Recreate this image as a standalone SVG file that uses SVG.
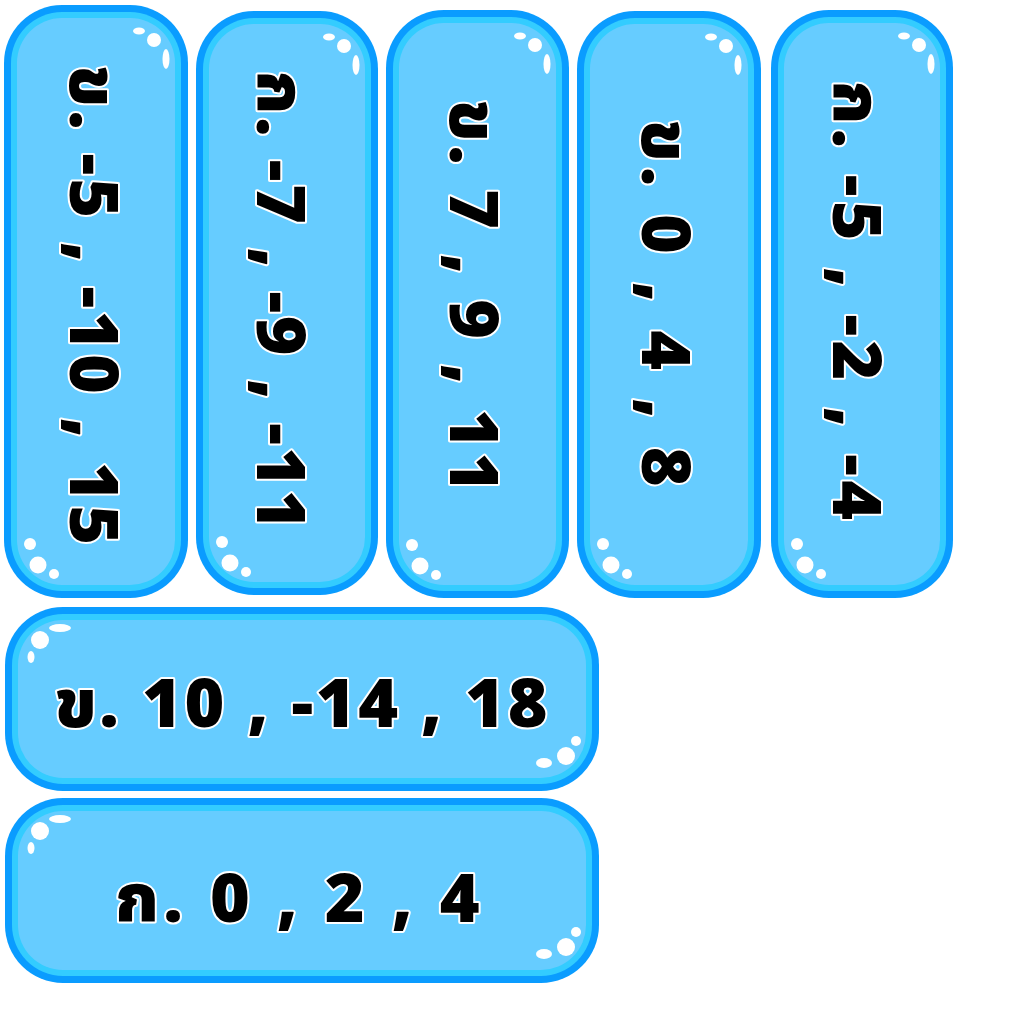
<svg xmlns="http://www.w3.org/2000/svg" width="1024" height="1024" viewBox="0 0 1024 1024">
<defs>
<style>
.o{fill:#0a9cff}
.m{fill:#33ccff}
.f{fill:#66ccff}
.hl{fill:#ffffff}
.t{font-family:"Noto Sans Thai","Noto Sans","DejaVu Sans",sans-serif;font-weight:900;font-size:68px;fill:#000;stroke:#fff;stroke-width:4px;paint-order:stroke;stroke-linejoin:round;text-anchor:middle}
</style>
</defs>
<rect width="1024" height="1024" fill="#fff"/>
<g id="card1">
<rect class="o" x="4" y="5" width="184" height="593" rx="58"/>
<rect class="m" x="11" y="12" width="170" height="579" rx="51"/>
<rect class="f" x="17" y="18" width="158" height="567" rx="45"/>
<ellipse class="hl" cx="139" cy="31" rx="6" ry="3.5"/><circle class="hl" cx="154" cy="40" r="7"/><ellipse class="hl" cx="166" cy="59" rx="3.5" ry="10"/>
<circle class="hl" cx="30" cy="544" r="6"/><circle class="hl" cx="38" cy="565" r="8.5"/><circle class="hl" cx="54" cy="574" r="5"/>
<text class="t" transform="translate(70,305) rotate(90)" textLength="480" lengthAdjust="spacing">ข. -5 , -10 , 15</text>
</g>
<g id="card2">
<rect class="o" x="196" y="11" width="182" height="584" rx="58"/>
<rect class="m" x="203" y="18" width="168" height="570" rx="51"/>
<rect class="f" x="209" y="24" width="156" height="558" rx="45"/>
<ellipse class="hl" cx="329" cy="37" rx="6" ry="3.5"/><circle class="hl" cx="344" cy="46" r="7"/><ellipse class="hl" cx="356" cy="65" rx="3.5" ry="10"/>
<circle class="hl" cx="222" cy="542" r="6"/><circle class="hl" cx="230" cy="563" r="8.5"/><circle class="hl" cx="246" cy="572" r="5"/>
<text class="t" transform="translate(257,300) rotate(90)" textLength="460" lengthAdjust="spacing">ก. -7 , -9 , -11</text>
</g>
<g id="card3">
<rect class="o" x="386" y="10" width="183" height="588" rx="58"/>
<rect class="m" x="393" y="17" width="169" height="574" rx="51"/>
<rect class="f" x="399" y="23" width="157" height="562" rx="45"/>
<ellipse class="hl" cx="520" cy="36" rx="6" ry="3.5"/><circle class="hl" cx="535" cy="45" r="7"/><ellipse class="hl" cx="547" cy="64" rx="3.5" ry="10"/>
<circle class="hl" cx="412" cy="545" r="6"/><circle class="hl" cx="420" cy="566" r="8.5"/><circle class="hl" cx="436" cy="575" r="5"/>
<text class="t" transform="translate(450,296) rotate(90)" textLength="393" lengthAdjust="spacing">ข. 7 , 9 , 11</text>
</g>
<g id="card4">
<rect class="o" x="577" y="11" width="184" height="587" rx="58"/>
<rect class="m" x="584" y="18" width="170" height="573" rx="51"/>
<rect class="f" x="590" y="24" width="158" height="561" rx="45"/>
<ellipse class="hl" cx="711" cy="37" rx="6" ry="3.5"/><circle class="hl" cx="726" cy="46" r="7"/><ellipse class="hl" cx="738" cy="65" rx="3.5" ry="10"/>
<circle class="hl" cx="603" cy="544" r="6"/><circle class="hl" cx="611" cy="565" r="8.5"/><circle class="hl" cx="627" cy="574" r="5"/>
<text class="t" transform="translate(642,303) rotate(90)" textLength="367" lengthAdjust="spacing">ข. 0 , 4 , 8</text>
</g>
<g id="card5">
<rect class="o" x="771" y="10" width="182" height="588" rx="58"/>
<rect class="m" x="778" y="17" width="168" height="574" rx="51"/>
<rect class="f" x="784" y="23" width="156" height="562" rx="45"/>
<ellipse class="hl" cx="904" cy="36" rx="6" ry="3.5"/><circle class="hl" cx="919" cy="45" r="7"/><ellipse class="hl" cx="931" cy="64" rx="3.5" ry="10"/>
<circle class="hl" cx="797" cy="544" r="6"/><circle class="hl" cx="805" cy="565" r="8.5"/><circle class="hl" cx="821" cy="574" r="5"/>
<text class="t" transform="translate(833,300) rotate(90)" textLength="440" lengthAdjust="spacing">ก. -5 , -2 , -4</text>
</g>
<g id="card6">
<rect class="o" x="5" y="607" width="594" height="184" rx="58"/>
<rect class="m" x="12" y="614" width="580" height="170" rx="51"/>
<rect class="f" x="18" y="620" width="568" height="158" rx="45"/>
<ellipse class="hl" cx="60" cy="628" rx="11" ry="4"/><circle class="hl" cx="40" cy="640" r="9"/><ellipse class="hl" cx="31" cy="657" rx="3.5" ry="6"/>
<circle class="hl" cx="576" cy="741" r="5"/><circle class="hl" cx="566" cy="756" r="9"/><ellipse class="hl" cx="544" cy="763" rx="8" ry="5"/>
<text class="t" x="301" y="727" textLength="493" lengthAdjust="spacing">ข. 10 , -14 , 18</text>
</g>
<g id="card7">
<rect class="o" x="5" y="798" width="594" height="185" rx="58"/>
<rect class="m" x="12" y="805" width="580" height="171" rx="51"/>
<rect class="f" x="18" y="811" width="568" height="159" rx="45"/>
<ellipse class="hl" cx="60" cy="819" rx="11" ry="4"/><circle class="hl" cx="40" cy="831" r="9"/><ellipse class="hl" cx="31" cy="848" rx="3.5" ry="6"/>
<circle class="hl" cx="576" cy="932" r="5"/><circle class="hl" cx="566" cy="947" r="9"/><ellipse class="hl" cx="544" cy="954" rx="8" ry="5"/>
<text class="t" x="297" y="922" textLength="365" lengthAdjust="spacing">ก. 0 , 2 , 4</text>
</g>
<g id="connectors"/>
</svg>
